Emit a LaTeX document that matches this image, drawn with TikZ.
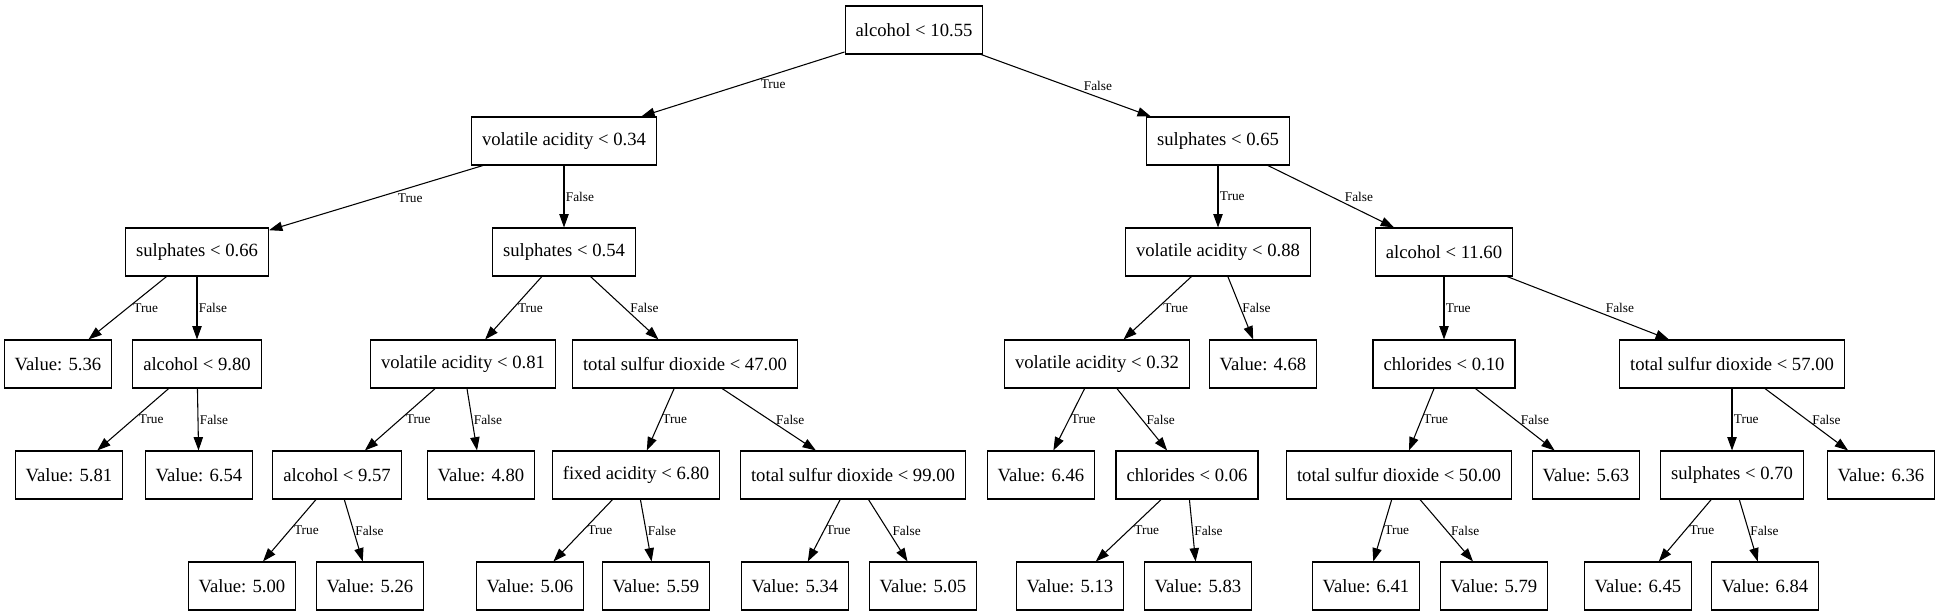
\documentclass[tikz,border=0pt]{standalone}
\usepackage{fontspec}
\setmainfont{Liberation Serif}
\usetikzlibrary{arrows.meta}

\tikzset{
  cond/.style={rectangle, draw, font=\fontsize{14}{16}\selectfont, minimum height=36pt, inner xsep=7.9pt, inner ysep=0pt},
  tf/.style={midway, anchor=west, inner sep=1pt, font=\fontsize{10}{12}\selectfont},
}

\begin{document}
\begin{tikzpicture}[x=0.75pt, y=-0.75pt, -{Triangle[length=10pt, width=7pt]}, line width=0.8pt]
	\useasboundingbox (0,0) rectangle (1938,614);

	% splits
	\node[cond] (alc1055) at (914,30) {alcohol < 10.55};
	\node[cond] (va034) at (564,141) {volatile acidity < 0.34};
	\node[cond] (su065) at (1218,141) {sulphates < 0.65};
	\node[cond] (su066) at (197,252) {sulphates < 0.66};
	\node[cond] (su054) at (564,252) {sulphates < 0.54};
	\node[cond] (va088) at (1218,252) {volatile acidity < 0.88};
	\node[cond] (alc1160) at (1444,252) {alcohol < 11.60};
	\node[cond] (v536) at (58,364) {Value: 5.36};
	\node[cond] (alc980) at (197,364) {alcohol < 9.80};
	\node[cond] (va081) at (463,364) {volatile acidity < 0.81};
	\node[cond] (tsd47) at (685,364) {total sulfur dioxide < 47.00};
	\node[cond] (va032) at (1097,364) {volatile acidity < 0.32};
	\node[cond] (v468) at (1263,364) {Value: 4.68};
	\node[cond] (chl010) at (1444,364) {chlorides < 0.10};
	\node[cond] (tsd57) at (1732,364) {total sulfur dioxide < 57.00};
	\node[cond] (v581) at (69,475) {Value: 5.81};
	\node[cond] (v654) at (199,475) {Value: 6.54};
	\node[cond] (alc957) at (337,475) {alcohol < 9.57};
	\node[cond] (v480) at (481,475) {Value: 4.80};
	\node[cond] (fa680) at (636,475) {fixed acidity < 6.80};
	\node[cond] (tsd99) at (853,475) {total sulfur dioxide < 99.00};
	\node[cond] (v646) at (1041,475) {Value: 6.46};
	\node[cond] (chl006) at (1187,475) {chlorides < 0.06};
	\node[cond] (tsd50) at (1399,475) {total sulfur dioxide < 50.00};
	\node[cond] (v563) at (1586,475) {Value: 5.63};
	\node[cond] (su070) at (1732,475) {sulphates < 0.70};
	\node[cond] (v636) at (1881,475) {Value: 6.36};
	% leaves
	\node[cond] (v500) at (242,586) {Value: 5.00};
	\node[cond] (v526) at (370,586) {Value: 5.26};
	\node[cond] (v506) at (530,586) {Value: 5.06};
	\node[cond] (v559) at (656,586) {Value: 5.59};
	\node[cond] (v534) at (795,586) {Value: 5.34};
	\node[cond] (v505) at (923,586) {Value: 5.05};
	\node[cond] (v513) at (1070,586) {Value: 5.13};
	\node[cond] (v583) at (1198,586) {Value: 5.83};
	\node[cond] (v641) at (1366,586) {Value: 6.41};
	\node[cond] (v579) at (1494,586) {Value: 5.79};
	\node[cond] (v645) at (1638,586) {Value: 6.45};
	\node[cond] (v684) at (1765,586) {Value: 6.84};

	\draw (alc1055) -- (va034) node[tf, xshift=12pt] {True};
	\draw (alc1055) -- (su065) node[tf, xshift=12pt] {False};
	\draw (va034) -- (su066) node[tf, xshift=15pt] {True};
	\draw (va034) -- (su054) node[tf] {False};
	\draw (su065) -- (va088) node[tf] {True};
	\draw (su065) -- (alc1160) node[tf, xshift=9pt] {False};
	\draw (su066) -- (v536) node[tf, xshift=3pt] {True};
	\draw (su066) -- (alc980) node[tf] {False};
	\draw (su054) -- (va081) node[tf, xshift=2pt] {True};
	\draw (su054) -- (tsd47) node[tf, xshift=3pt] {False};
	\draw (va088) -- (va032) node[tf, xshift=3pt] {True};
	\draw (va088) -- (v468) node[tf] {False};
	\draw (alc1160) -- (chl010) node[tf] {True};
	\draw (alc1160) -- (tsd57) node[tf, xshift=12pt] {False};
	\draw (alc980) -- (v581) node[tf, xshift=3pt] {True};
	\draw (alc980) -- (v654) node[tf] {False};
	\draw (va081) -- (alc957) node[tf, xshift=3pt] {True};
	\draw (va081) -- (v480) node[tf] {False};
	\draw (tsd47) -- (fa680) node[tf] {True};
	\draw (tsd47) -- (tsd99) node[tf, xshift=4pt] {False};
	\draw (va032) -- (v646) node[tf] {True};
	\draw (va032) -- (chl006) node[tf, xshift=2pt] {False};
	\draw (chl010) -- (tsd50) node[tf] {True};
	\draw (chl010) -- (v563) node[tf, xshift=3pt] {False};
	\draw (tsd57) -- (su070) node[tf] {True};
	\draw (tsd57) -- (v636) node[tf, xshift=3pt] {False};
	\draw (alc957) -- (v500) node[tf, xshift=2pt] {True};
	\draw (alc957) -- (v526) node[tf] {False};
	\draw (fa680) -- (v506) node[tf, xshift=2pt] {True};
	\draw (fa680) -- (v559) node[tf] {False};
	\draw (tsd99) -- (v534) node[tf] {True};
	\draw (tsd99) -- (v505) node[tf, xshift=2pt] {False};
	\draw (chl006) -- (v513) node[tf, xshift=3pt] {True};
	\draw (chl006) -- (v583) node[tf] {False};
	\draw (tsd50) -- (v641) node[tf] {True};
	\draw (tsd50) -- (v579) node[tf, xshift=2pt] {False};
	\draw (su070) -- (v645) node[tf, xshift=2pt] {True};
	\draw (su070) -- (v684) node[tf] {False};
\end{tikzpicture}
\end{document}
